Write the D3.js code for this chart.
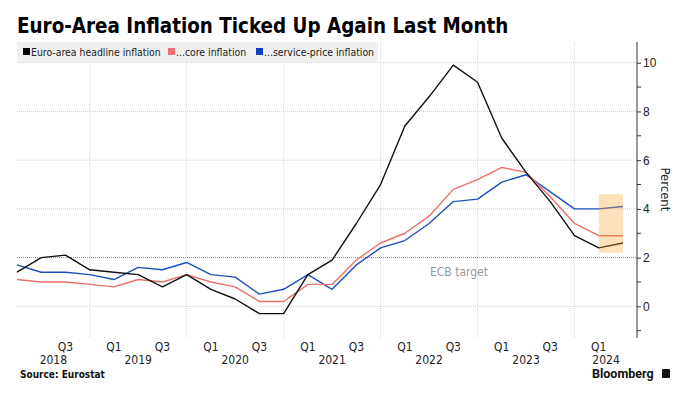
<!DOCTYPE html>
<html>
<head>
<meta charset="utf-8">
<script src="https://cdn.jsdelivr.net/npm/d3@7"></script>
<style>
  body { margin: 0; background: #fff; }
  svg { display: block; font-family: "DejaVu Sans Condensed", "DejaVu Sans", sans-serif; }
</style>
</head>
<body>
<div id="chart"></div>
<script>
// =========================================
// DATA (quarterly, Q1 2018 .. Q2 2024)
// =========================================
const periods = [
  "2018Q1","2018Q2","2018Q3","2018Q4",
  "2019Q1","2019Q2","2019Q3","2019Q4",
  "2020Q1","2020Q2","2020Q3","2020Q4",
  "2021Q1","2021Q2","2021Q3","2021Q4",
  "2022Q1","2022Q2","2022Q3","2022Q4",
  "2023Q1","2023Q2","2023Q3","2023Q4",
  "2024Q1","2024Q2"
];
const headline = [1.4,2.0,2.1,1.5,1.4,1.3,0.8,1.3,0.7,0.3,-0.3,-0.3,1.3,1.9,3.4,5.0,7.4,8.6,9.9,9.2,6.9,5.5,4.3,2.9,2.4,2.6];
const core     = [1.1,1.0,1.0,0.9,0.8,1.1,1.0,1.3,1.0,0.8,0.2,0.2,0.9,0.9,1.9,2.6,3.0,3.7,4.8,5.2,5.7,5.5,4.5,3.4,2.9,2.9];
const services = [1.7,1.4,1.4,1.3,1.1,1.6,1.5,1.8,1.3,1.2,0.5,0.7,1.3,0.7,1.7,2.4,2.7,3.4,4.3,4.4,5.1,5.4,4.7,4.0,4.0,4.1];

const seriesNames  = ["Euro-area headline inflation", "...core inflation", "...service-price inflation"];
const seriesColors = ["#111111", "#ec6f6c", "#1f4fbf"];
const legendColors = ["#000000", "#f07070", "#1040c0"];

const quarterTicks = ["2018Q3","2019Q1","2019Q3","2020Q1","2020Q3","2021Q1","2021Q3","2022Q1","2022Q3","2023Q1","2023Q3","2024Q1"];
// year label, position in quarter index units
const yearLabels = [["2018",1.5],["2019",5],["2020",9],["2021",13],["2022",17],["2023",21],["2024",24.3]];
const yearBreaks = ["2018Q4","2019Q4","2020Q4","2021Q4","2022Q4","2023Q4"];

const yTicks      = [0, 2, 4, 6, 8, 10];
const yMinorTicks = [-1, 1, 3, 5, 7, 9];
const ecbTarget   = 2;
const highlight   = { from: "2024Q1", to: "2024Q2", lo: 2.2, hi: 4.6 };

// =========================================
// LAYOUT
// =========================================
const W = 691, H = 395;
const plot = { left: 17, right: 623, axisX: 637, top: 42, bottom: 338 };

const svg = d3.select("#chart").append("svg")
  .attr("width", W).attr("height", H);

const x = d3.scalePoint().domain(periods).range([plot.left, plot.right]);
const xi = d3.scaleLinear().domain([0, periods.length - 1]).range([plot.left, plot.right]);
const y = d3.scaleLinear().domain([-1.3, 10.85]).range([plot.bottom, plot.top]);

// Title
svg.append("text")
  .attr("x", 17).attr("y", 33)
  .style("font-size", "20.4px").style("font-weight", "bold").attr("fill", "#000")
  .text("Euro-Area Inflation Ticked Up Again Last Month");

// =========================================
// GRID
// =========================================
svg.append("g")
  .selectAll("line")
  .data(yTicks.filter(d => d !== ecbTarget))
  .join("line")
  .attr("x1", plot.left).attr("x2", plot.axisX)
  .attr("y1", d => y(d)).attr("y2", d => y(d))
  .attr("stroke", "#cfcfcf").attr("stroke-width", 1)
  .attr("stroke-dasharray", "1,1");

svg.append("g")
  .selectAll("line")
  .data(yearBreaks)
  .join("line")
  .attr("x1", d => x(d)).attr("x2", d => x(d))
  .attr("y1", plot.top).attr("y2", plot.bottom)
  .attr("stroke", "#d8d8d8").attr("stroke-width", 1)
  .attr("stroke-dasharray", "1,1");

// ECB target
svg.append("line")
  .attr("x1", plot.left).attr("x2", plot.axisX)
  .attr("y1", y(ecbTarget)).attr("y2", y(ecbTarget))
  .attr("stroke", "#8a8a8a").attr("stroke-width", 1)
  .attr("stroke-dasharray", "1,1");

svg.append("text")
  .attr("x", 459).attr("y", y(ecbTarget) + 18)
  .attr("text-anchor", "middle")
  .style("font-size", "12px").attr("fill", "#9a9a9a")
  .text("ECB target");

// =========================================
// LINES
// =========================================
const line = d3.line()
  .x((d, i) => x(periods[i]))
  .y(d => y(d));

svg.append("g")
  .selectAll("path")
  .data([services, core, headline].map((v, i) => ({ v, c: seriesColors[2 - i] })))
  .join("path")
  .attr("fill", "none")
  .attr("stroke", d => d.c)
  .attr("stroke-width", 1.4)
  .attr("stroke-linejoin", "round")
  .attr("d", d => line(d.v));

// highlighted latest readings
svg.append("rect")
  .attr("x", x(highlight.from))
  .attr("width", x(highlight.to) - x(highlight.from))
  .attr("y", y(highlight.hi))
  .attr("height", y(highlight.lo) - y(highlight.hi))
  .attr("fill", "#f7a838").attr("fill-opacity", 0.35);

// =========================================
// RIGHT AXIS
// =========================================
svg.append("line")
  .attr("x1", plot.axisX).attr("x2", plot.axisX)
  .attr("y1", plot.top).attr("y2", plot.bottom)
  .attr("stroke", "#333");

const yAxis = svg.append("g")
  .attr("transform", `translate(${plot.axisX},0)`)
  .call(d3.axisRight(y).tickValues(yTicks).tickSize(4).tickPadding(2))
  .call(g => g.select(".domain").remove());
yAxis.selectAll("line").attr("stroke", "#333");
yAxis.selectAll("text").style("font-size", "12px").attr("fill", "#222")
  .style("font-family", "inherit");

svg.append("g")
  .selectAll("line")
  .data(yMinorTicks)
  .join("line")
  .attr("x1", plot.axisX).attr("x2", plot.axisX + 4)
  .attr("y1", d => y(d)).attr("y2", d => y(d))
  .attr("stroke", "#333");

svg.append("text")
  .attr("transform", `translate(661,${y(4.8)}) rotate(90)`)
  .attr("text-anchor", "middle")
  .style("font-size", "13px").attr("fill", "#222")
  .text("Percent");

// =========================================
// X LABELS
// =========================================
svg.append("g")
  .selectAll("text")
  .data(quarterTicks)
  .join("text")
  .attr("x", d => x(d)).attr("y", 351)
  .attr("text-anchor", "middle")
  .style("font-size", "12px").attr("fill", "#222")
  .text(d => d.slice(4));

svg.append("g")
  .selectAll("text")
  .data(yearLabels)
  .join("text")
  .attr("x", d => xi(d[1])).attr("y", 364)
  .attr("text-anchor", "middle")
  .style("font-size", "12px").attr("fill", "#222")
  .text(d => d[0]);

// =========================================
// LEGEND
// =========================================
svg.append("rect")
  .attr("x", 17).attr("y", 42).attr("width", 361).attr("height", 20)
  .attr("fill", "#f0f0f0");

const legendX = [23, 168, 256];
const lg = svg.append("g").selectAll("g")
  .data(seriesNames)
  .join("g")
  .attr("transform", (d, i) => `translate(${legendX[i]},48)`);
lg.append("rect")
  .attr("width", 7).attr("height", 7)
  .attr("fill", (d, i) => legendColors[i]);
lg.append("text")
  .attr("x", 8).attr("y", 7.5)
  .style("font-size", "10.4px").attr("fill", "#222")
  .text(d => d);

// =========================================
// FOOTER
// =========================================
svg.append("text")
  .attr("x", 20).attr("y", 378)
  .style("font-size", "10px").style("font-weight", "bold").attr("fill", "#111")
  .text("Source:  Eurostat");

svg.append("text")
  .attr("x", 592).attr("y", 378)
  .style("font-size", "12.5px").style("font-weight", "bold").attr("fill", "#111")
  .style("font-family", "Roboto, 'Liberation Sans', sans-serif")
  .text("Bloomberg");

svg.append("rect")
  .attr("x", 662).attr("y", 369).attr("width", 8).attr("height", 9).attr("rx", 1)
  .attr("fill", "#111");
</script>
</body>
</html>
